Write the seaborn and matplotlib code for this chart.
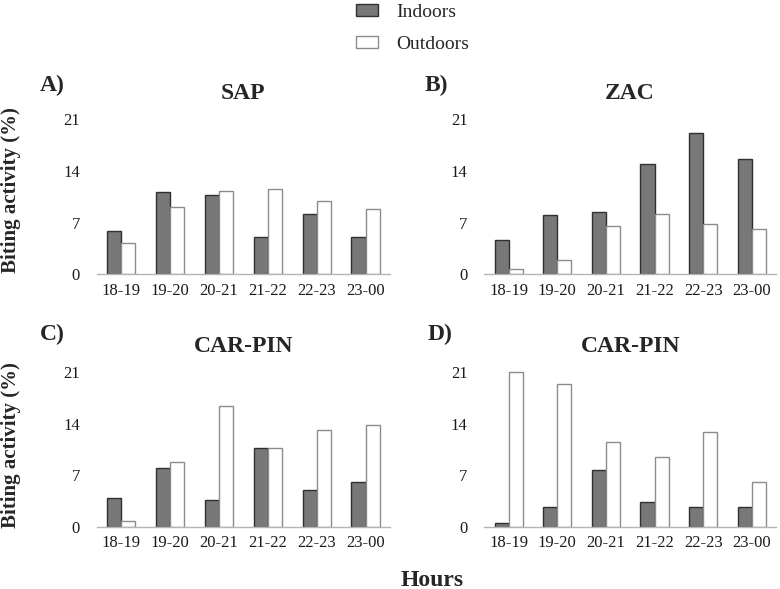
import pandas as pd
import matplotlib
matplotlib.use('Agg')
import matplotlib.pyplot as plt
import seaborn as sns

# 시간대 / 데이터
hours = ['18-19', '19-20', '20-21', '21-22', '22-23', '23-00']
groups = ['Indoors', 'Outdoors']

sap_in = [5.9, 11.1, 10.7, 5.0, 8.2, 5.0]
sap_out = [4.3, 9.1, 11.3, 11.5, 9.9, 8.8]
zac_in = [4.7, 8.0, 8.5, 14.9, 19.1, 15.6]
zac_out = [0.7, 2.0, 6.5, 8.2, 6.8, 6.1]
carpin_c_in = [3.9, 8.0, 3.7, 10.8, 5.0, 6.1]
carpin_c_out = [0.8, 8.8, 16.4, 10.8, 13.2, 13.8]
carpin_d_in = [0.5, 2.7, 7.8, 3.4, 2.7, 2.7]
carpin_d_out = [21.1, 19.4, 11.6, 9.5, 12.9, 6.1]

panels = [('A)', 'SAP', sap_in, sap_out),
          ('B)', 'ZAC', zac_in, zac_out),
          ('C)', 'CAR-PIN', carpin_c_in, carpin_c_out),
          ('D)', 'CAR-PIN', carpin_d_in, carpin_d_out)]

sns.set_style('white')
plt.rcParams['font.family'] = ['Liberation Serif', 'DejaVu Serif']

fig = plt.figure(figsize=(7.8, 5.89), dpi=100)

# 축 위치 (figure 비율)
positions = [(0.124, 0.534, 0.376, 0.270),
             (0.621, 0.534, 0.374, 0.270),
             (0.124, 0.1053, 0.376, 0.2686),
             (0.621, 0.1053, 0.374, 0.2686)]

colors = {'Indoors': '#787878', 'Outdoors': '#ffffff'}
edges = ['#303030', '#8c8c8c']

axes = []
for i, (letter, title, vin, vout) in enumerate(panels):
    ax = fig.add_axes(positions[i])
    axes.append(ax)
    df = pd.DataFrame({'hour': hours * 2,
                       'group': ['Indoors'] * 6 + ['Outdoors'] * 6,
                       'value': vin + vout})
    sns.barplot(data=df, x='hour', y='value', hue='group', hue_order=groups,
                palette=colors, width=0.58, ax=ax, legend=False)
    for cont, ec in zip(ax.containers, edges):
        for p in cont:
            p.set_edgecolor(ec)
            p.set_linewidth(1.0)
    ax.set_ylim(0, 21.5)
    ax.set_yticks([0, 7, 14, 21])
    ax.set_xlabel('')
    ax.set_ylabel('')
    for s in ['top', 'right', 'left']:
        ax.spines[s].set_visible(False)
    ax.spines['bottom'].set_color('#b5b5b5')
    ax.spines['bottom'].set_linewidth(1.0)
    ax.tick_params(axis='both', length=0, labelsize=12, colors='#1a1a1a')
    ax.tick_params(axis='y', pad=12)
    ax.tick_params(axis='x', pad=6)
    ax.set_title(title, fontsize=17, fontweight='bold', pad=12)

# 패널 문자
fig.text(40 / 780, 1 - 85 / 589, 'A)', fontsize=17, fontweight='bold', va='center')
fig.text(425 / 780, 1 - 85 / 589, 'B)', fontsize=17, fontweight='bold', va='center')
fig.text(40 / 780, 1 - 334 / 589, 'C)', fontsize=17, fontweight='bold', va='center')
fig.text(428 / 780, 1 - 334 / 589, 'D)', fontsize=17, fontweight='bold', va='center')

# y 라벨
fig.text(11 / 780, 1 - 190 / 589, 'Biting activity (%)', rotation=90,
         fontsize=15, fontweight='bold', ha='center', va='center')
fig.text(11 / 780, 1 - 445 / 589, 'Biting activity (%)', rotation=90,
         fontsize=15, fontweight='bold', ha='center', va='center')

# x 라벨
fig.text(432 / 780, 1 - 580 / 589, 'Hours', fontsize=17, fontweight='bold',
         ha='center', va='center')

# 범례
handles = [plt.Rectangle((0, 0), 1, 1, facecolor=colors[g], edgecolor=e, linewidth=1.0)
           for g, e in zip(groups, edges)]
fig.legend(handles, groups, loc='upper left', bbox_to_anchor=(343 / 780, 1 + 9 / 589),
           frameon=False, fontsize=14, handlelength=1.15, handleheight=0.6,
           handletextpad=0.95, labelspacing=0.78, borderpad=0.15)

fig.savefig('out.png', dpi=100)
